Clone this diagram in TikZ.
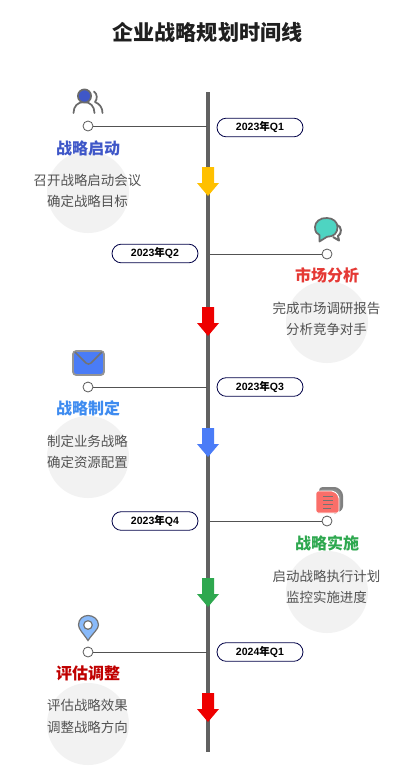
\documentclass[tikz,border=0pt]{standalone}
\usepackage{fontspec}
\setmainfont{Noto Sans CJK SC}
\newfontfamily\pillfont{Liberation Sans}
\begin{document}
\begin{tikzpicture}[x=0.75pt,y=-0.75pt,
  pill/.style={draw=black!20!blue!35!black,line width=0.6pt,rounded corners=7pt,fill=white,minimum width=64.5pt,minimum height=14pt,inner sep=0pt,font=\fontsize{7.9pt}{9pt}\selectfont\bfseries},
  dot/.style={circle,draw=black!65,line width=0.6pt,fill=white,minimum size=7.5pt,inner sep=0pt},
  conn/.style={draw=black!68,line width=0.75pt},
  halo/.style={circle,fill=black!5,minimum size=61.5pt,inner sep=0pt},
  ttl/.style={font=\fontsize{12pt}{14pt}\selectfont\bfseries,inner sep=0pt},
  body/.style={font=\fontsize{10.1pt}{16pt}\selectfont,text=black!68,align=center,inner sep=0pt},
  ico/.style={draw=black!58,line width=1.3pt,line join=round}
]
\definecolor{cA}{HTML}{3F57C8}\definecolor{cB}{HTML}{E53935}\definecolor{cC}{HTML}{3F8CF0}\definecolor{cD}{HTML}{2EA84F}\definecolor{cE}{HTML}{C00000}
\definecolor{aA}{HTML}{FFC000}\definecolor{aB}{HTML}{EE0000}\definecolor{aC}{HTML}{4A7CF7}
\definecolor{iT}{HTML}{4ED4C2}\definecolor{iD}{HTML}{FA6E69}\definecolor{iP}{HTML}{89BAFA}
\useasboundingbox (0,0) rectangle (415,776);
\fill[white] (0,0) rectangle (415,776);
\node[font=\fontsize{15.8pt}{18pt}\selectfont\bfseries,text=black!88,inner sep=0pt] (title) at (207.5,32) {企业战略规划时间线};
% halos
\node[halo] (h1) at (88,192) {};
\node[halo] (h2) at (327,322) {};
\node[halo] (h3) at (88,457) {};
\node[halo] (h4) at (327,592) {};
\node[halo] (h5) at (88,724) {};
% spine
\coordinate (top) at (208,92);
\coordinate (bot) at (208,752);
\draw[draw=black!62,line width=2.7pt] (top) -- (bot);
% connector dots
\node[dot] (d1) at (88,126) {};
\node[dot] (d2) at (327,254) {};
\node[dot] (d3) at (88,387) {};
\node[dot] (d4) at (327,521) {};
\node[dot] (d5) at (88,652) {};
\coordinate (s1) at (207,126);
\coordinate (s2) at (210,254);
\coordinate (s3) at (207,387);
\coordinate (s4) at (210,521);
\coordinate (s5) at (207,652);
\draw[conn] (d1) -- (s1);
\draw[conn] (d2) -- (s2);
\draw[conn] (d3) -- (s3);
\draw[conn] (d4) -- (s4);
\draw[conn] (d5) -- (s5);
% arrows
\newcommand{\downarr}[2]{\fill[#2] (202,#1) -- (214,#1) -- (214,#1+16) -- (219,#1+16) -- (208,#1+29) -- (197,#1+16) -- (202,#1+16) -- cycle;}
\downarr{167}{aA}
\downarr{307}{aB}
\downarr{428}{aC}
\downarr{578}{cD}
\downarr{693}{aB}
% pills
\node[pill] (p1) at (260,127.5) {{\pillfont 2023}年{\pillfont Q1}};
\node[pill] (p2) at (155,253.5) {{\pillfont 2023}年{\pillfont Q2}};
\node[pill] (p3) at (260,387) {{\pillfont 2023}年{\pillfont Q3}};
\node[pill] (p4) at (155,521) {{\pillfont 2023}年{\pillfont Q4}};
\node[pill] (p5) at (260,652) {{\pillfont 2024}年{\pillfont Q1}};
% titles
\node[ttl,text=cA] (t1) at (88,148) {战略启动};
\node[ttl,text=cB] (t2) at (327,275) {市场分析};
\node[ttl,text=cC] (t3) at (88,408) {战略制定};
\node[ttl,text=cD] (t4) at (327,543) {战略实施};
\node[ttl,text=cE] (t5) at (88,673) {评估调整};
% bodies
\node[body] (b1) at (87.5,191) {召开战略启动会议\\确定战略目标};
\node[body] (b2) at (326.5,319) {完成市场调研报告\\分析竞争对手};
\node[body] (b3) at (87.5,452) {制定业务战略\\确定资源配置};
\node[body] (b4) at (326.5,587) {启动战略执行计划\\监控实施进度};
\node[body] (b5) at (87.5,716.5) {评估战略效果\\调整战略方向};
% icon 1: users
\draw[ico,line cap=round] (73.5,113) .. controls (73.5,106) and (78,102) .. (84,102) .. controls (90,102) and (94.5,106) .. (94.5,113);
\draw[ico,line cap=round] (94,91.5) .. controls (97.5,94) and (97.5,99) .. (95,102) .. controls (100,104) and (102.5,108) .. (102.5,113);
\fill[cA,draw=black!58,line width=1.3pt] (84.5,96) circle (6.6);
% icon 2: chat
\draw[ico,line width=1.5pt,fill=white] (337,225) .. controls (342,226) and (342,234) .. (338,236) -- (339,240.5) -- (333,237);
\draw[ico,fill=iT] (327,218) .. controls (320,217.5) and (315,222) .. (315,227) .. controls (315,232) and (317,234) .. (319.5,235) -- (319.5,241.5) -- (327,236.8) .. controls (334,236.8) and (337.5,233) .. (337.5,227) .. controls (337.5,222) and (333,218) .. (327,218) -- cycle;
% icon 3: mail
\draw[draw=black!42,line width=1.4pt,fill=aC,rounded corners=2.5pt] (73,351) rectangle (104,375);
\draw[draw=black!55,line width=1.1pt,line join=round] (75,352) -- (86,363) .. controls (87.5,364.5) and (89.5,364.5) .. (91,363) -- (102,352);
% icon 4: document
\draw[draw=black!50,line width=1.5pt,fill=black!45,rounded corners=2pt] (320,488) -- (337,488) -- (342,493) -- (342,509) -- (338,511) -- (320,511) -- cycle;
\draw[draw=white,line width=0.7pt,fill=iD,rounded corners=1.5pt] (316,491) -- (334,491) -- (339,496) -- (339,513) -- (316,513) -- cycle;
\draw[draw=black!55,line width=0.9pt] (323,496.5) -- (333,496.5) (323,500.5) -- (333,500.5) (323,504.5) -- (333,504.5) (323,508.5) -- (331,508.5);
% icon 5: pin
\draw[draw=black!55,line width=0.9pt,fill=iP] (88,640.5) .. controls (83,633) and (78.5,629) .. (78.5,625) .. controls (78.5,619) and (83,615.5) .. (88,615.5) .. controls (93,615.5) and (98.5,619) .. (98.5,625) .. controls (98.5,629) and (93,633) .. (88,640.5) -- cycle;
\draw[draw=black!55,line width=0.9pt,fill=white] (88,625) circle (4.3);
\end{tikzpicture}
\end{document}
